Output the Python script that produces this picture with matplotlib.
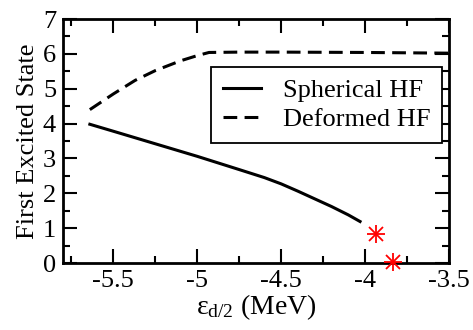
import matplotlib
matplotlib.use("Agg")
import matplotlib.pyplot as plt
from matplotlib.ticker import MultipleLocator

plt.rcParams['font.family'] = ['Liberation Serif', 'DejaVu Serif']
plt.rcParams['mathtext.fontset'] = 'custom'
plt.rcParams['mathtext.rm'] = 'Liberation Serif'
plt.rcParams['mathtext.it'] = 'Liberation Serif:italic'

sph_x = [-5.64, -5.5, -5.25, -5.0, -4.75, -4.6, -4.5, -4.4, -4.3, -4.2, -4.1, -4.03]
sph_y = [3.98, 3.78, 3.42, 3.06, 2.68, 2.45, 2.27, 2.06, 1.84, 1.62, 1.38, 1.19]

def_x = [-5.64, -5.5, -5.37, -5.25, -5.1, -5.0, -4.93, -4.75, -4.5, -4.0, -3.5]
def_y = [4.40, 4.85, 5.24, 5.52, 5.80, 5.95, 6.04, 6.05, 6.05, 6.04, 6.02]

star_x = [-3.935, -3.835]
star_y = [0.82, 0.02]

fig = plt.figure(figsize=(4.73, 3.30), dpi=100)
ax = fig.add_axes([63/473, 1-263/330, (449-63)/473, (263-19)/330])

ax.plot(sph_x, sph_y, color='black', lw=2.2, label='Spherical HF')
ax.plot(def_x, def_y, color='black', lw=2.2, ls=(0, (4.5, 2.4)), label='Deformed HF')
for m in ['+', 'x']:
    ax.plot(star_x, star_y, ls='none', marker=m, ms=13 if m == '+' else 10, mew=1.3,
            color='red', clip_on=False, zorder=5)

ax.set_xlim(-5.8, -3.5)
ax.set_ylim(0, 7)
ax.xaxis.set_major_locator(MultipleLocator(0.5))
ax.xaxis.set_minor_locator(MultipleLocator(0.25))
ax.yaxis.set_major_locator(MultipleLocator(1))
ax.yaxis.set_minor_locator(MultipleLocator(0.5))
ax.set_xticks([-5.5, -5, -4.5, -4, -3.5])
ax.set_xticklabels(['-5.5', '-5', '-4.5', '-4', '-3.5'])
ax.tick_params(which='both', direction='in', top=True, right=True, width=1.5, labelsize=19, pad=5)
ax.tick_params(which='major', length=10)
ax.tick_params(which='minor', length=5)
for s in ax.spines.values():
    s.set_linewidth(2)

ax.set_ylabel('First Excited State', fontsize=19, labelpad=3)
ax.set_xlabel(r'$\mathregular{\epsilon_{d/2}}$ (MeV)', fontsize=20, labelpad=0)

leg = ax.legend(loc='upper right', bbox_to_anchor=(1-7/386, 1-48/244), fontsize=19,
                frameon=True, fancybox=False, edgecolor='black', framealpha=1,
                handlelength=1.45, borderpad=0.45, labelspacing=0.2, handletextpad=0.8,
                borderaxespad=0)
leg.get_frame().set_linewidth(1.3)

fig.savefig('out.png', dpi=100)
